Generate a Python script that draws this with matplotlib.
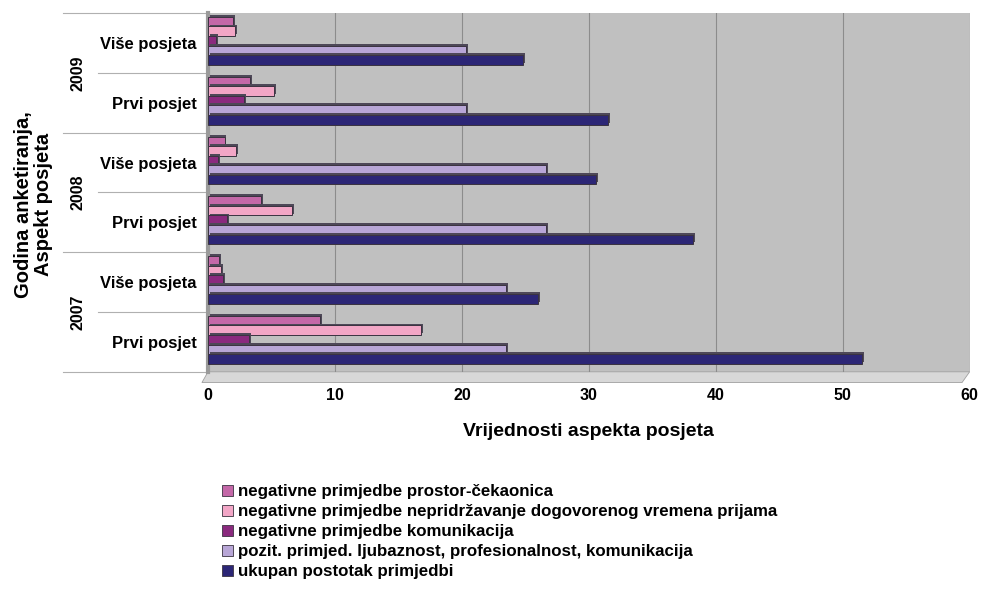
import matplotlib
matplotlib.use("Agg")
import matplotlib.pyplot as plt
import matplotlib.patheffects as pe
from matplotlib.patches import Patch, Polygon
import matplotlib.transforms as mtransforms
import numpy as np

plt.rcParams['font.family'] = ['Liberation Sans', 'DejaVu Sans']

# Categories from bottom to top
years = ["2007", "2008", "2009"]
aspects = ["Prvi posjet", "Više posjeta"]
series_names = [
    "negativne primjedbe prostor-čekaonica",
    "negativne primjedbe nepridržavanje dogovorenog vremena prijama",
    "negativne primjedbe komunikacija",
    "pozit. primjed. ljubaznost, profesionalnost, komunikacija",
    "ukupan postotak primjedbi",
]
# order: 2007 Prvi, 2007 Više, 2008 Prvi, 2008 Više, 2009 Prvi, 2009 Više
prostor = [8.8, 0.9, 4.2, 1.3, 3.3, 2.0]
nepridrzavanje = [16.8, 1.0, 6.6, 2.2, 5.2, 2.1]
komunikacija = [3.2, 1.2, 1.5, 0.8, 2.8, 0.6]
pozitivne = [23.5, 23.5, 26.6, 26.6, 20.3, 20.3]
ukupno = [51.5, 26.0, 38.2, 30.6, 31.5, 24.8]

series = [prostor, nepridrzavanje, komunikacija, pozitivne, ukupno]
colors = ["#c468a8", "#f2a6c6", "#8a2a7e", "#b8a6d6", "#2c2676"]

fig = plt.figure(figsize=(9.84, 5.93), dpi=100)
ax = fig.add_axes([0.2114, 0.373, 0.774, 0.605])
ax.set_facecolor("#c0c0c0")

n = len(prostor)
y = np.arange(n)
h = 0.16
shift = 0.035
offsets = [2 * h, h, 0, -h, -2 * h]
for vals, col, off in zip(series, colors, offsets):
    ax.barh(y + shift + off, vals, height=h, color=col, edgecolor="#3a3340",
            linewidth=0.7, zorder=3,
            path_effects=[pe.SimplePatchShadow(offset=(1.4, 1.4), shadow_rgbFace="#4e4858", alpha=1.0),
                          pe.Normal()])

ax.set_xlim(0, 60)
ax.set_ylim(-0.5, n - 0.5)
ax.set_xticks(range(0, 61, 10))
ax.xaxis.grid(True, color="#8c8c8c", linewidth=0.8, zorder=1)
ax.set_axisbelow(True)
for lbl in ax.get_xticklabels():
    lbl.set_fontweight("bold")
ax.tick_params(axis="x", length=0, labelsize=11.5, pad=12)
ax.set_yticks(y)
ax.set_yticklabels([a for _ in years for a in aspects], fontweight="bold", fontsize=12)
ax.tick_params(axis="y", length=0, pad=8)
for s in ax.spines.values():
    s.set_visible(False)
ax.spines["left"].set_visible(True)
ax.spines["left"].set_color("#9a9a9a")
ax.spines["left"].set_linewidth(3)

# floor band under the bars
floor = Polygon([[-0.008, -0.03], [0.0, 0.0], [1.0, 0.0], [0.99, -0.03]],
                closed=True, transform=ax.transAxes, facecolor="#d8d8d8",
                edgecolor="#a0a0a0", linewidth=0.6, clip_on=False, zorder=0)
ax.add_patch(floor)

ax.set_xlabel("Vrijednosti aspekta posjeta", fontweight="bold", fontsize=14, labelpad=14)

# category separators and year group labels on the left
trans = mtransforms.blended_transform_factory(ax.transAxes, ax.transData)
for i in range(n + 1):
    yy = i - 0.5
    x0 = -0.19 if i % 2 == 0 else -0.145
    ax.plot([x0, -0.004], [yy, yy], transform=trans, color="#b0b0b0",
            linewidth=0.8, clip_on=False)
for k, yr in enumerate(years):
    ax.text(-0.171, 2 * k + 0.5, yr, transform=trans, rotation=90,
            ha="center", va="center", fontweight="bold", fontsize=11.5)

fig.text(0.034, 0.655, "Godina anketiranja,\nAspekt posjeta", rotation=90,
         ha="center", va="center", fontweight="bold", fontsize=14.5,
         linespacing=1.05)

handles = [Patch(facecolor=c, edgecolor="#3a3340", linewidth=0.6) for c in colors]
leg = fig.legend(handles, series_names, loc="upper left",
                 bbox_to_anchor=(0.226, 0.183), frameon=False,
                 handlelength=0.65, handleheight=0.65, handletextpad=0.25,
                 labelspacing=0.29, borderaxespad=0, borderpad=0,
                 prop={"weight": "bold", "size": 12.2})

fig.savefig("out.png", dpi=100, facecolor="white")
